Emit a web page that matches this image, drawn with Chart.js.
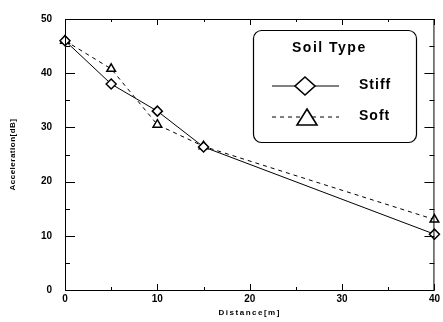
<!DOCTYPE html>
<html lang="en">
<head>
<meta charset="UTF-8">
<title>Acceleration vs Distance</title>
<script src="https://cdn.jsdelivr.net/npm/chart.js"></script>
<style>
  body { margin: 0; background: #fff; }
  #wrap { width: 443px; height: 322px; }
</style>
</head>
<body>
<div id="wrap"><canvas id="chart" width="443" height="322"></canvas></div>
<script>
// distance along the line [m]
const distance = [0, 5, 10, 15, 40];
// acceleration level [dB] per soil type
const stiff = [46, 38, 33, 26.4, 10.3];
const soft = [46, 40.8, 30.5, 26.5, 13];
const xTicks = [0, 10, 20, 30, 40];
const yTicks = [0, 10, 20, 30, 40, 50];

const toPoints = ys => distance.map((d, i) => ({ x: d, y: ys[i] }));

// inside tick marks on all four sides, major every 10, minor every 5
const frameTicks = {
  id: 'frameTicks',
  afterDraw(chart) {
    const { ctx, chartArea: a, scales: { x, y } } = chart;
    ctx.save();
    ctx.strokeStyle = '#000';
    ctx.lineWidth = 1;
    ctx.strokeRect(a.left + 0.5, a.top + 0.5, a.right - a.left - 1, a.bottom - a.top);
    for (let v = 0; v <= 40; v += 5) {
      const px = Math.round(x.getPixelForValue(v)) + 0.5;
      const len = v % 10 === 0 ? 6 : 3;
      ctx.beginPath();
      ctx.moveTo(px, a.bottom); ctx.lineTo(px, a.bottom - len);
      ctx.moveTo(px, a.top); ctx.lineTo(px, a.top + len);
      ctx.stroke();
    }
    for (let v = 0; v <= 50; v += 5) {
      const py = Math.round(y.getPixelForValue(v)) + 0.5;
      const len = v % 10 === 0 ? 10 : 5;
      ctx.beginPath();
      ctx.moveTo(a.left, py); ctx.lineTo(a.left + len, py);
      ctx.moveTo(a.right, py); ctx.lineTo(a.right - len, py);
      ctx.stroke();
    }
    // axis titles, letter spaced
    ctx.fillStyle = '#000';
    ctx.font = 'bold 8px "Liberation Sans", Arial, sans-serif';
    ctx.letterSpacing = '1.5px';
    ctx.textAlign = 'center';
    ctx.textBaseline = 'middle';
    ctx.fillText('Distance[m]', (a.left + a.right) / 2, 313);
    ctx.translate(13, (a.top + a.bottom) / 2);
    ctx.rotate(-Math.PI / 2);
    ctx.letterSpacing = '0.5px';
    ctx.fillText('Acceleration[dB]', 0, 0);
    ctx.restore();
  }
};

// boxed legend with title
const soilLegend = {
  id: 'soilLegend',
  afterDraw(chart) {
    const { ctx } = chart;
    const bx = 253, by = 30, bw = 163, bh = 112, r = 8;
    ctx.save();
    ctx.fillStyle = '#fff';
    ctx.strokeStyle = '#000';
    ctx.lineWidth = 1.2;
    ctx.beginPath();
    ctx.roundRect(bx + 0.5, by + 0.5, bw, bh, r);
    ctx.fill();
    ctx.stroke();
    ctx.fillStyle = '#000';
    ctx.font = 'bold 14px "Liberation Sans", Arial, sans-serif';
    ctx.letterSpacing = '1.5px';
    ctx.textAlign = 'left';
    ctx.textBaseline = 'middle';
    ctx.fillText('Soil Type', 292, 48);
    ctx.letterSpacing = '1px';
    const rows = [{ y: 86, ds: chart.data.datasets[0] }, { y: 117, ds: chart.data.datasets[1] }];
    rows.forEach(row => {
      ctx.lineWidth = 1;
      ctx.setLineDash(row.ds.borderDash || []);
      ctx.beginPath();
      ctx.moveTo(272, row.y); ctx.lineTo(339, row.y);
      ctx.stroke();
      ctx.setLineDash([]);
      ctx.lineWidth = 1.6;
      ctx.fillStyle = '#fff';
      ctx.beginPath();
      if (row.ds.pointStyle === 'rectRot') {
        ctx.moveTo(305, row.y - 9); ctx.lineTo(315, row.y);
        ctx.lineTo(305, row.y + 9); ctx.lineTo(295, row.y);
      } else {
        ctx.moveTo(307, row.y - 8); ctx.lineTo(317, row.y + 8); ctx.lineTo(297, row.y + 8);
      }
      ctx.closePath();
      ctx.fill();
      ctx.stroke();
      ctx.fillStyle = '#000';
      ctx.fillText(row.ds.label, 359, row.y - 1);
    });
    ctx.restore();
  }
};

new Chart(document.getElementById('chart'), {
  type: 'line',
  data: {
    datasets: [
      {
        label: 'Stiff',
        data: toPoints(stiff),
        borderColor: '#000',
        borderWidth: 1,
        pointStyle: 'rectRot',
        pointRadius: 5,
        pointBackgroundColor: '#fff',
        pointBorderColor: '#000',
        pointBorderWidth: 1.5,
        tension: 0
      },
      {
        label: 'Soft',
        data: toPoints(soft),
        borderColor: '#000',
        borderWidth: 1,
        borderDash: [4, 4],
        pointStyle: 'triangle',
        pointRadius: 5,
        pointBackgroundColor: '#fff',
        pointBorderColor: '#000',
        pointBorderWidth: 1.5,
        tension: 0
      }
    ]
  },
  options: {
    responsive: false,
    animation: false,
    clip: false,
    layout: { padding: { top: 15, right: 7, left: 0, bottom: 0 } },
    plugins: { legend: { display: false }, tooltip: { enabled: false } },
    scales: {
      x: {
        type: 'linear',
        min: 0, max: 40,
        afterBuildTicks: s => { s.ticks = xTicks.map(v => ({ value: v })); },
        afterFit: s => { s.height = 32; },
        grid: { display: false, drawTicks: false },
        border: { display: false },
        ticks: { color: '#000', font: { family: '"Liberation Sans", Arial, sans-serif', size: 10, weight: 'bold' }, padding: 3, maxRotation: 0 }
      },
      y: {
        min: 0, max: 50,
        afterBuildTicks: s => { s.ticks = yTicks.map(v => ({ value: v })); },
        afterFit: s => { s.width = 65; },
        grid: { display: false, drawTicks: false },
        border: { display: false },
        ticks: { color: '#000', font: { family: '"Liberation Sans", Arial, sans-serif', size: 10, weight: 'bold' }, padding: 13 }
      }
    }
  },
  plugins: [frameTicks, soilLegend]
});
</script>
</body>
</html>
